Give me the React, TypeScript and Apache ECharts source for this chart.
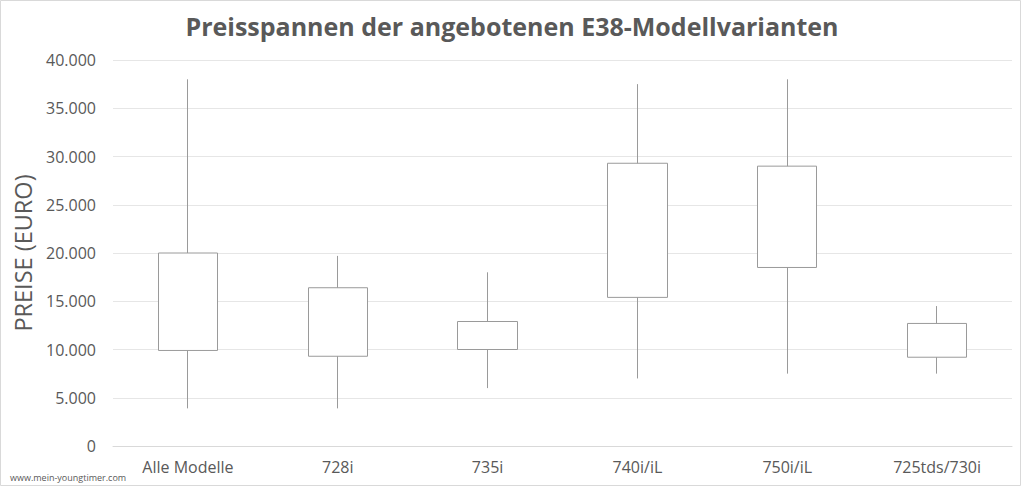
import React, { useEffect, useRef } from "react";
import * as echarts from "echarts";

const categories = ["Alle Modelle", "728i", "735i", "740i/iL", "750i/iL", "725tds/730i"];
const lowPrices = [3900, 3900, 6000, 7000, 7500, 7500];
const boxLower = [9900, 9300, 10000, 15400, 18500, 9200];
const boxUpper = [20000, 16400, 12900, 29300, 29000, 12700];
const highPrices = [38000, 19700, 18000, 37500, 38000, 14500];
const yTicks = [0, 5000, 10000, 15000, 20000, 25000, 30000, 35000, 40000];

const TXT = "#595959";
const FONT = "'Open Sans', 'Noto Sans', sans-serif";

export default function App() {
  const ref = useRef<HTMLDivElement>(null);
  useEffect(() => {
    if (!ref.current) return;
    const chart = echarts.init(ref.current, null, { renderer: "svg" });
    const data = categories.map((_, i) => [boxLower[i], boxUpper[i], lowPrices[i], highPrices[i]]);
    chart.setOption({
      animation: false,
      backgroundColor: "#ffffff",
      title: {
        text: "Preisspannen der angebotenen E38-Modellvarianten",
        left: "center",
        top: 8,
        textStyle: { color: TXT, fontFamily: FONT, fontWeight: "bold", fontSize: 25 },
      },
      grid: { left: 113, right: 12, top: 60, bottom: 42 },
      xAxis: {
        type: "category",
        data: categories,
        axisLine: { show: true, lineStyle: { color: "#d9d9d9" } },
        axisTick: { show: false },
        axisLabel: { color: TXT, fontFamily: FONT, fontSize: 16, margin: 13 },
      },
      yAxis: {
        type: "value",
        min: yTicks[0],
        max: yTicks[yTicks.length - 1],
        interval: 5000,
        name: "PREISE (EURO)",
        nameLocation: "middle",
        nameGap: 63,
        nameTextStyle: { color: TXT, fontFamily: FONT, fontSize: 23.5 },
        axisLine: { show: false },
        axisTick: { show: false },
        splitLine: { lineStyle: { color: "#e6e6e6" } },
        axisLabel: {
          color: TXT,
          fontFamily: FONT,
          fontSize: 16,
          margin: 17,
          formatter: (v: number) => (v === 0 ? "0" : v.toLocaleString("de-DE")),
        },
      },
      series: [
        {
          type: "candlestick",
          data,
          barWidth: "40%",
          itemStyle: {
            color: "#ffffff",
            color0: "#ffffff",
            borderColor: "#9a9a9a",
            borderColor0: "#9a9a9a",
            borderWidth: 1,
          },
        },
      ],
      graphic: [
        {
          type: "rect",
          shape: { x: 0.5, y: 0.5, width: 1020, height: 485 },
          style: { fill: "none", stroke: "#d9d9d9", lineWidth: 1 },
          silent: true,
        },
        {
          type: "text",
          left: 10,
          top: 473,
          style: { text: "www.mein-youngtimer.com", fill: TXT, font: "9px 'Open Sans', sans-serif" },
        },
      ],
    });
    return () => chart.dispose();
  }, []);
  return <div ref={ref} style={{ position: "fixed", left: 0, top: 0, width: 1024, height: 488 }} />;
}
